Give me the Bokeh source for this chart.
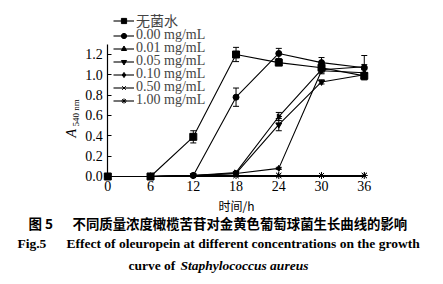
import math
from bokeh.plotting import figure
from bokeh.models import (Range1d, ColumnDataSource, Whisker, TeeHead, Legend,
                          LegendItem, Label, FixedTicker, NumeralTickFormatter)
from bokeh.embed import file_html
from bokeh.resources import INLINE

hours = [0, 6, 12, 18, 24, 30, 36]
labels = ["无菌水", "0.00 mg/mL", "0.01 mg/mL", "0.05 mg/mL",
          "0.10 mg/mL", "0.50 mg/mL", "1.00 mg/mL"]

water = [0.00, 0.00, 0.39, 1.20, 1.12, 1.07, 0.99]
c000 = [0.00, 0.00, 0.01, 0.78, 1.21, 1.12, 1.07]
c001 = [0.00, 0.00, 0.01, 0.04, 0.59, 1.05, 1.08]
c005 = [0.00, 0.00, 0.01, 0.03, 0.51, 0.93, 1.00]
c010 = [0.00, 0.00, 0.01, 0.03, 0.08, 1.04, 1.02]
c050 = [0.00, 0.00, 0.01, 0.01, 0.01, 0.01, 0.01]
c100 = [0.00, 0.00, 0.01, 0.01, 0.01, 0.01, 0.01]

water_err = [0, 0, 0.06, 0.07, 0.02, 0.02, 0.03]
c000_err = [0, 0, 0, 0.09, 0.05, 0.05, 0.12]
c001_err = [0, 0, 0, 0.01, 0.04, 0.03, 0.02]
c005_err = [0, 0, 0, 0.01, 0.06, 0.02, 0.02]
c010_err = [0, 0, 0, 0, 0.01, 0.03, 0.03]
c050_err = [0, 0, 0, 0, 0, 0, 0]
c100_err = [0, 0, 0, 0, 0, 0, 0]

y_ticks = [0.0, 0.2, 0.4, 0.6, 0.8, 1.0, 1.2]
x_ticks = [0, 6, 12, 18, 24, 30, 36]

series = [water, c000, c001, c005, c010, c050, c100]
errors = [water_err, c000_err, c001_err, c005_err, c010_err, c050_err, c100_err]
markers = [("square", 7, 0), ("circle", 6, 0), ("triangle", 5, -math.pi / 2),
           ("inverted_triangle", 6, 0), ("diamond", 6, 0), ("x", 7, 0),
           ("asterisk", 7, 0)]

SERIF = "Liberation Serif, 'Noto Sans CJK SC'"
CJK = "'Noto Sans CJK SC'"

# frame covers the whole canvas; axes are pinned at data zero
p = figure(width=443, height=284,
           min_border_left=0, min_border_right=0,
           min_border_top=0, min_border_bottom=0,
           x_range=Range1d(-15.06, 47.12), y_range=Range1d(-1.0623, 1.731),
           output_backend="svg", toolbar_location=None)
p.title.visible = False
p.outline_line_color = None
p.xgrid.visible = False
p.ygrid.visible = False
p.background_fill_color = "white"
p.border_fill_color = "white"

for ax in (p.xaxis[0], p.yaxis[0]):
    ax.fixed_location = 0
    ax.axis_line_color = "black"
    ax.axis_line_width = 1.2
    ax.major_tick_in = 4
    ax.major_tick_out = 0
    ax.minor_tick_line_color = None
    ax.major_label_text_font = SERIF
    ax.major_label_text_font_size = "14px"
    ax.major_label_text_color = "black"
    ax.major_tick_line_color = "black"
p.xaxis[0].ticker = FixedTicker(ticks=x_ticks)
p.yaxis[0].ticker = FixedTicker(ticks=y_ticks)
p.xaxis[0].bounds = (0, 36)
p.yaxis[0].bounds = (0, 1.3)
p.yaxis[0].formatter = NumeralTickFormatter(format="0.0")
p.xaxis[0].major_label_standoff = 5
p.yaxis[0].major_label_standoff = 5

for i, (name, ys, es, (mk, sz, ang)) in enumerate(zip(labels, series, errors, markers)):
    lr = p.line(hours, ys, line_color="black", line_width=1.1)
    sr = p.scatter(hours, ys, marker=mk, size=sz, angle=ang,
                   fill_color="black", line_color="black", line_width=1)
    xs = [h for h, e in zip(hours, es) if e > 0]
    up = [y + e for y, e in zip(ys, es) if e > 0]
    lo = [y - e for y, e in zip(ys, es) if e > 0]
    if xs:
        src = ColumnDataSource(dict(x=xs, upper=up, lower=lo))
        w = Whisker(source=src, base="x", upper="upper", lower="lower",
                    line_color="black", line_width=1,
                    upper_head=TeeHead(size=6, line_color="black", line_width=1),
                    lower_head=TeeHead(size=6, line_color="black", line_width=1))
        p.add_layout(w)
    # one single-entry legend per series, stacked 13 px apart
    lg = Legend(items=[LegendItem(label=name, renderers=[lr, sr])],
                location=(113, 253.8 - 13 * i), orientation="vertical",
                background_fill_alpha=0, border_line_color=None,
                padding=0, margin=0, spacing=0,
                glyph_width=21, glyph_height=13, label_height=13,
                label_standoff=2,
                label_text_font=SERIF, label_text_font_size="14px")
    p.add_layout(lg, "center")

def lab(text, x, y, size, font=SERIF, style="normal", align="left", angle=0,
        baseline="middle"):
    p.add_layout(Label(x=x, y=y, x_units="screen", y_units="screen", text=text,
                       text_font=font, text_font_size=size, text_font_style=style,
                       text_align=align, text_baseline=baseline, angle=angle,
                       text_color="black"))

# y axis label  A_{540 nm}
lab("A", 71, 147, "14px", style="italic", angle=math.pi / 2)
lab("540 nm", 75, 158, "9px", angle=math.pi / 2)
# x axis label
lab("时间/h", 236, 79, "12px", font=CJK, align="center")
# captions
lab("图 5", 28, 62, "13.5px", font=CJK, style="bold")
lab("不同质量浓度橄榄苦苷对金黄色葡萄球菌生长曲线的影响", 72, 62, "13.4px",
    font=CJK, style="bold")
lab("Fig.5", 17, 41, "13.5px", style="bold")
lab("Effect of oleuropein at different concentrations on the growth", 66, 41,
    "13.5px", style="bold")
lab("curve of", 128, 19, "13.5px", style="bold")
lab("Staphylococcus aureus", 180, 19, "13.5px", style="bold italic")

open("out.html", "w").write(file_html(p, INLINE))
